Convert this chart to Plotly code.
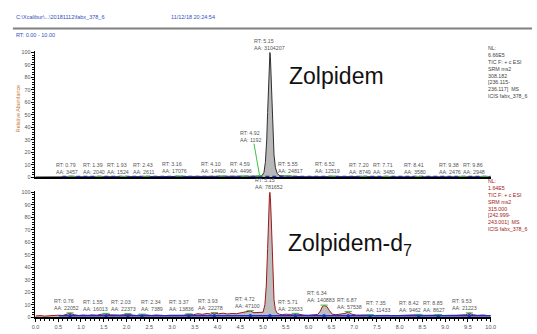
import numpy as np
import plotly.graph_objects as go

# ---------------- data ----------------
top_rt = [0.0, 0.3, 0.6, 0.79, 1.0, 1.39, 1.7, 1.93, 2.2, 2.43, 2.8, 3.16, 3.5, 3.8, 4.10,
          4.4, 4.59, 4.8, 4.92, 4.98, 5.02, 5.05, 5.08, 5.10, 5.12, 5.14, 5.15, 5.16, 5.18,
          5.20, 5.22, 5.24, 5.27, 5.31, 5.37, 5.55, 5.9, 6.2, 6.52, 6.9, 7.20, 7.5, 7.71,
          8.0, 8.41, 8.8, 9.1, 9.38, 9.6, 9.86, 10.0]
top_int = [0.3, 0.3, 0.4, 0.6, 0.4, 0.5, 0.4, 0.5, 0.4, 0.6, 0.4, 0.8, 0.5, 0.5, 0.8,
           0.5, 0.7, 0.6, 0.9, 1.5, 4, 12, 30, 52, 78, 96, 100, 97, 80,
           55, 33, 18, 8, 3, 1.2, 0.9, 0.5, 0.5, 0.7, 0.5, 0.6, 0.4, 0.5,
           0.4, 0.5, 0.4, 0.4, 0.5, 0.4, 0.5, 0.4]

bot_rt = [0.0, 0.1, 0.2, 0.3, 0.4, 0.5, 0.6, 0.7, 0.76, 0.85, 0.95, 1.05, 1.15, 1.25, 1.35,
          1.45, 1.55, 1.65, 1.75, 1.85, 1.95, 2.03, 2.12, 2.22, 2.34, 2.45, 2.55, 2.65, 2.75,
          2.85, 2.95, 3.05, 3.15, 3.25, 3.37, 3.47, 3.57, 3.67, 3.77, 3.85, 3.93, 4.02, 4.12,
          4.22, 4.32, 4.42, 4.52, 4.62, 4.72, 4.80, 4.88, 4.95, 5.00, 5.04, 5.07, 5.10, 5.12,
          5.14, 5.15, 5.16, 5.18, 5.20, 5.22, 5.24, 5.27, 5.31, 5.36, 5.42, 5.50, 5.60, 5.71,
          5.80, 5.90, 6.00, 6.10, 6.20, 6.26, 6.30, 6.34, 6.40, 6.46, 6.52, 6.60, 6.70, 6.80,
          6.87, 6.95, 7.05, 7.15, 7.25, 7.35, 7.45, 7.55, 7.65, 7.75, 7.85, 7.95, 8.05, 8.15,
          8.25, 8.35, 8.42, 8.52, 8.62, 8.72, 8.85, 8.95, 9.05, 9.15, 9.25, 9.35, 9.45, 9.53,
          9.62, 9.72, 9.82, 9.92, 10.0]
bot_int = [1.0, 1.3, 0.9, 1.2, 1.0, 1.6, 1.4, 2.2, 3.2, 2.0, 1.4, 1.8, 1.5, 1.9, 1.6,
           2.4, 2.8, 1.9, 1.5, 1.7, 2.0, 2.6, 1.8, 1.4, 2.2, 1.6, 1.4, 1.8, 1.5,
           1.3, 1.6, 1.4, 1.8, 1.6, 2.4, 2.0, 2.8, 2.3, 3.0, 2.5, 3.4, 2.7, 3.2,
           2.6, 3.0, 2.8, 3.6, 4.2, 5.0, 3.6, 3.8, 3.4, 4.0, 10, 25, 55, 85,
           98, 100, 96, 78, 50, 28, 14, 6, 3.2, 2.4, 2.0, 2.4, 2.2, 2.8,
           2.0, 1.7, 1.6, 1.8, 2.2, 5.0, 8.5, 9.4, 8.6, 5.2, 2.4, 2.0, 2.4, 3.0,
           4.2, 2.4, 1.7, 1.9, 1.5, 1.8, 1.4, 1.6, 1.3, 1.5, 1.2, 1.4, 1.3, 1.6,
           1.4, 1.8, 2.0, 1.5, 1.3, 1.6, 1.9, 1.4, 1.5, 1.3, 1.6, 1.8, 2.0, 3.2,
           1.9, 1.5, 1.8, 1.4, 1.2]

top_labels_rt = [0.79, 1.39, 1.93, 2.43, 3.16, 4.10, 4.59, 4.92, 5.15, 5.55, 6.52, 7.20,
                 7.71, 8.41, 9.38, 9.86]
top_labels_aa = ["3457", "2040", "1524", "2611", "17076", "14490", "4496", "1192", "3104207",
                 "24817", "12519", "8749", "3480", "3580", "2476", "2948"]
bot_labels_rt = [0.76, 1.55, 2.03, 2.34, 3.37, 3.93, 4.72, 5.15, 5.71, 6.34, 6.87, 7.35,
                 8.42, 8.85, 9.53]
bot_labels_aa = ["22052", "16013", "22373", "7389", "13836", "22278", "47100", "781652",
                 "23633", "140883", "57538", "11433", "9462", "8627", "21223"]

top_info = ["NL:", "6.66E5", "TIC F: + c ESI", "SRM ms2", "308.182", "[236.115-",
            "236.117]  MS", "ICIS fabx_378_6"]
bot_info = ["NL:", "1.64E5", "TIC F: + c ESI", "SRM ms2", "315.000", "[242.999-",
            "243.001]  MS", "ICIS fabx_378_6"]

header_path = "C:\\Xcalibur\\...\\20181112\\fabx_378_6"
header_date = "11/12/18 20:24:54"
rt_range = "RT: 0.00 - 10.00"
x_ticks = [0.0, 0.5, 1.0, 1.5, 2.0, 2.5, 3.0, 3.5, 4.0, 4.5, 5.0, 5.5, 6.0, 6.5, 7.0, 7.5,
           8.0, 8.5, 9.0, 9.5, 10.0]
y_ticks = [0, 10, 20, 30, 40, 50, 60, 70, 80, 90, 100]
leader_rt = 4.92
# --------------------------------------

# label placement nudges (pixels, layout only)
top_label_dx = [-4, -5, -5, -3, -5, -9, -3, -9, 0, 2, -5, -3, -2, -3, -12, -10]
bot_label_dx = [-4, -11, -4, 10, -7, -4, -3, -1, -5, -3, 1, 8, -9, -4, -5]

FONT = "Liberation Sans, Arial, sans-serif"
W, H = 537, 334
x0px, x1px = 32, 495
dom_x = [x0px / W, x1px / W]
top_dom = [1 - 178 / H, 1 - 50 / H]
bot_dom = [1 - 320 / H, 1 - 192 / H]

fig = go.Figure()

fig.add_trace(go.Scatter(x=top_rt, y=top_int, mode="lines", fill="tozeroy",
                         fillcolor="#b8b8b8", line=dict(color="#303030", width=1),
                         xaxis="x", yaxis="y", hoverinfo="skip"))
fig.add_trace(go.Scatter(x=bot_rt, y=bot_int, mode="lines", fill="tozeroy",
                         fillcolor="#bdbdbd", line=dict(color="#a01818", width=1),
                         xaxis="x2", yaxis="y2", hoverinfo="skip"))

fig.add_trace(go.Scatter(x=[top_labels_rt[0] - 0.2, x_ticks[-1]], y=[0.6, 0.6], mode="lines",
                         line=dict(color="#1a2ee0", width=1.6, dash="4px,3px"),
                         xaxis="x", yaxis="y", hoverinfo="skip"))
fig.add_trace(go.Scatter(x=[bot_labels_rt[0] - 0.25, x_ticks[-1]], y=[1.2, 1.2], mode="lines",
                         line=dict(color="#1a2ee0", width=1.6),
                         xaxis="x2", yaxis="y2", hoverinfo="skip"))
fig.add_trace(go.Scatter(x=bot_labels_rt, y=[1.2] * len(bot_labels_rt), mode="markers",
                         marker=dict(color="#1a2ee0", size=3.5, symbol="circle"),
                         xaxis="x2", yaxis="y2", hoverinfo="skip"))


def green_marks(rts, xs, ys):
    gx, gy = [], []
    for r in rts:
        if abs(r - 5.15) < 0.01:
            continue
        v = float(np.interp(r, xs, ys))
        gx += [r - 0.08, r + 0.08, None]
        gy += [v + 0.3, v + 0.3, None]
    return gx, gy


gx, gy = green_marks(top_labels_rt, top_rt, top_int)
fig.add_trace(go.Scatter(x=gx, y=gy, mode="lines", line=dict(color="#40c040", width=1),
                         xaxis="x", yaxis="y", hoverinfo="skip"))
gx, gy = green_marks(bot_labels_rt, bot_rt, bot_int)
fig.add_trace(go.Scatter(x=gx, y=gy, mode="lines", line=dict(color="#40c040", width=1),
                         xaxis="x2", yaxis="y2", hoverinfo="skip"))

lv = float(np.interp(leader_rt, top_rt, top_int))
fig.add_trace(go.Scatter(x=[leader_rt - 0.12, leader_rt], y=[27, lv + 1], mode="lines",
                         line=dict(color="#40c040", width=1), xaxis="x", yaxis="y",
                         hoverinfo="skip"))

ann = []


def peak_labels(rts, aas, dxs, xs, ys, yref, xref):
    for r, a, dx in zip(rts, aas, dxs):
        v = float(np.interp(r, xs, ys))
        yv = v
        shift = 1
        if xref == "x" and abs(r - leader_rt) < 1e-6:
            yv = 27
            shift = 0
        ann.append(dict(x=r, y=yv, xref=xref, yref=yref, text=f"RT: {r:.2f}<br>AA: {a}",
                        showarrow=False, xanchor="center", yanchor="bottom", yshift=shift,
                        xshift=dx, align="left", borderpad=0,
                        font=dict(family=FONT, size=5.3, color="#555555")))


peak_labels(top_labels_rt, top_labels_aa, top_label_dx, top_rt, top_int, "y", "x")
peak_labels(bot_labels_rt, bot_labels_aa, bot_label_dx, bot_rt, bot_int, "y2", "x2")

ann.append(dict(x=490 / W, y=1 - 42 / H, xref="paper", yref="paper",
                text="<br>".join(top_info), showarrow=False, xanchor="left", yanchor="top",
                align="left", font=dict(family=FONT, size=5.3, color="#444444")))
ann.append(dict(x=490 / W, y=1 - 177 / H, xref="paper", yref="paper",
                text="<br>".join(bot_info), showarrow=False, xanchor="left", yanchor="top",
                align="left", font=dict(family=FONT, size=5.3, color="#a02020")))

ann.append(dict(x=338 / W, y=1 - 75 / H, xref="paper", yref="paper", text="Zolpidem",
                showarrow=False, xanchor="center", yanchor="middle",
                font=dict(family=FONT, size=23, color="#111111")))
ann.append(dict(x=352 / W, y=1 - 246 / H, xref="paper", yref="paper",
                text="Zolpidem-d<sub>7</sub>",
                showarrow=False, xanchor="center", yanchor="middle",
                font=dict(family=FONT, size=23, color="#111111")))

ann.append(dict(x=10 / W, y=1 - 15 / H, xref="paper", yref="paper", text=header_path,
                showarrow=False, xanchor="left", yanchor="middle",
                font=dict(family=FONT, size=5.5, color="#3050c0")))
ann.append(dict(x=168 / W, y=1 - 15 / H, xref="paper", yref="paper", text=header_date,
                showarrow=False, xanchor="left", yanchor="middle",
                font=dict(family=FONT, size=5.5, color="#3050c0")))
ann.append(dict(x=10 / W, y=1 - 33 / H, xref="paper", yref="paper", text=rt_range,
                showarrow=False, xanchor="left", yanchor="middle",
                font=dict(family=FONT, size=5.5, color="#3050c0")))
ann.append(dict(x=15 / W, y=1 - 108 / H, xref="paper", yref="paper",
                text="Relative Abundance", textangle=-90,
                showarrow=False, xanchor="center", yanchor="middle",
                font=dict(family=FONT, size=5.3, color="#c07830")))

shapes = [dict(type="line", xref="paper", yref="paper", x0=9 / W, x1=1, y0=1 - 27 / H,
               y1=1 - 27 / H, line=dict(color="#808080", width=2))]

xaxis_common = dict(range=[x_ticks[0], x_ticks[-1]], domain=dom_x, showgrid=False,
                    zeroline=False, showline=True, linecolor="#000000", linewidth=1.5,
                    tickvals=x_ticks, ticktext=[f"{t:.1f}" for t in x_ticks])
yaxis_common = dict(range=[0, 101], showgrid=False, zeroline=False, showline=True,
                    linecolor="#000000", linewidth=1, tickvals=y_ticks, ticks="outside",
                    ticklen=3, tickwidth=1, tickcolor="#000",
                    tickfont=dict(family=FONT, size=5.3, color="#555555"),
                    minor=dict(dtick=2, ticks="outside", ticklen=2, tickcolor="#000",
                               tickwidth=0.6))

fig.update_layout(
    width=W, height=H, margin=dict(l=0, r=0, t=0, b=0),
    paper_bgcolor="white", plot_bgcolor="white", showlegend=False,
    xaxis=dict(**xaxis_common, anchor="y", showticklabels=False, ticks=""),
    yaxis=dict(**yaxis_common, domain=top_dom, anchor="x"),
    xaxis2=dict(**xaxis_common, anchor="y2", ticks="outside", ticklen=3, tickcolor="#000",
                tickfont=dict(family=FONT, size=5.5, color="#555555"),
                minor=dict(dtick=0.1, ticks="outside", ticklen=2, tickcolor="#000")),
    yaxis2=dict(**yaxis_common, domain=bot_dom, anchor="x2"),
    annotations=ann, shapes=shapes,
)

fig.write_html("out.html", config={"displayModeBar": False},
               post_script="document.body.style.margin='0';document.body.style.overflow='hidden';")
